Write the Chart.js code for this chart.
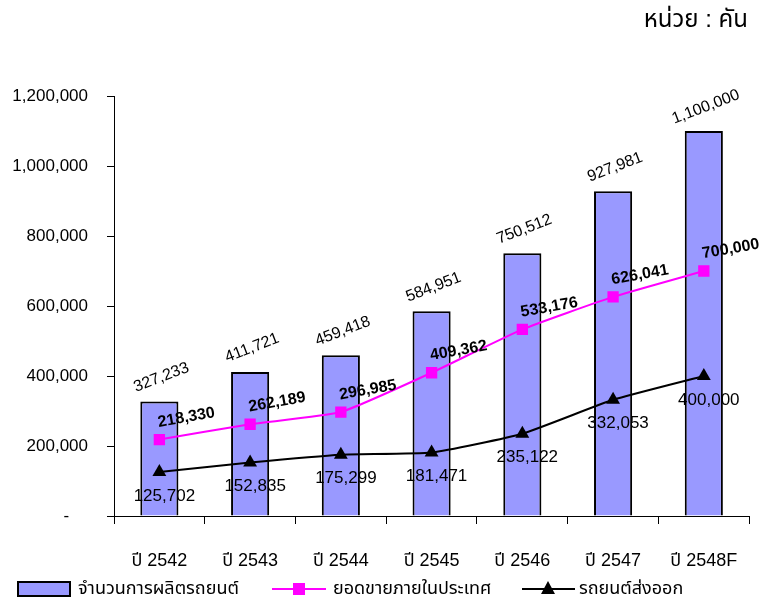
<!DOCTYPE html>
<html>
<head>
<meta charset="utf-8">
<script src="https://cdn.jsdelivr.net/npm/chart.js@4.4.1/dist/chart.umd.min.js"></script>
<style>
  html, body { margin: 0; padding: 0; background: #fff; }
  #wrap { width: 764px; height: 604px; position: relative; }
</style>
</head>
<body>
<div id="wrap"><canvas id="chart" width="764" height="604"></canvas></div>
<script>
const years = ['ปี 2542', 'ปี 2543', 'ปี 2544', 'ปี 2545', 'ปี 2546', 'ปี 2547', 'ปี 2548F']
const production = [327233, 411721, 459418, 584951, 750512, 927981, 1100000]
const domestic = [218330, 262189, 296985, 409362, 533176, 626041, 700000]
const exported = [125702, 152835, 175299, 181471, 235122, 332053, 400000]
const seriesNames = ['จำนวนการผลิตรถยนต์', 'ยอดขายภายในประเทศ', 'รถยนต์ส่งออก']
const unitText = 'หน่วย : คัน'

const FONT = '"Liberation Sans", Arial, "Noto Sans Thai", sans-serif'
const fmt = v => v.toLocaleString('en-US')

// data labels, drawn after datasets
const labelPlugin = {
  id: 'labels',
  afterDatasetsDraw(chart) {
    const ctx = chart.ctx
    ctx.save()
    ctx.fillStyle = '#000'
    ctx.textAlign = 'center'
    ctx.textBaseline = 'middle'
    // bar labels (rotated)
    chart.getDatasetMeta(0).data.forEach((el, i) => {
      ctx.save()
      ctx.translate(el.x + 2, el.y - 24)
      ctx.rotate(-21 * Math.PI / 180)
      ctx.font = '16px ' + FONT
      ctx.fillText(fmt(production[i]), 0, 0)
      ctx.restore()
    })
    // domestic sales (bold, slight rotation)
    chart.getDatasetMeta(1).data.forEach((el, i) => {
      ctx.save()
      ctx.translate(el.x + 27, el.y - 22)
      ctx.rotate(-10 * Math.PI / 180)
      ctx.font = 'bold 16px ' + FONT
      ctx.fillText(fmt(domestic[i]), 0, 0)
      ctx.restore()
    })
    // exports, below the points
    ctx.font = '17px ' + FONT
    chart.getDatasetMeta(2).data.forEach((el, i) => {
      ctx.fillText(fmt(exported[i]), el.x + 5, el.y + 24)
    })
    ctx.restore()
  }
}

// unit caption + legend at the bottom
const decorPlugin = {
  id: 'decor',
  afterDraw(chart) {
    const ctx = chart.ctx
    ctx.save()
    ctx.fillStyle = '#000'
    ctx.textBaseline = 'middle'
    ctx.textAlign = 'right'
    ctx.font = '24px ' + FONT
    ctx.fillText(unitText, 748, 20)

    const ly = 589
    ctx.font = '18px ' + FONT
    ctx.textAlign = 'left'
    // bar swatch
    ctx.fillStyle = '#9999FF'
    ctx.fillRect(18, 582, 52, 14)
    ctx.lineWidth = 2
    ctx.strokeStyle = '#000'
    ctx.strokeRect(18, 582, 52, 14)
    ctx.fillStyle = '#000'
    ctx.fillText(seriesNames[0], 78, ly)
    // magenta line + square
    ctx.strokeStyle = '#FF00FF'
    ctx.beginPath(); ctx.moveTo(272, ly); ctx.lineTo(326, ly); ctx.stroke()
    ctx.fillStyle = '#FF00FF'
    ctx.fillRect(293, ly - 6, 12, 12)
    ctx.fillStyle = '#000'
    ctx.fillText(seriesNames[1], 333, ly)
    // black line + triangle
    ctx.strokeStyle = '#000'
    ctx.beginPath(); ctx.moveTo(522, ly); ctx.lineTo(575, ly); ctx.stroke()
    ctx.beginPath()
    ctx.moveTo(548, ly - 8); ctx.lineTo(555, ly + 5); ctx.lineTo(541, ly + 5); ctx.closePath()
    ctx.fill()
    ctx.fillText(seriesNames[2], 579, ly)
    ctx.restore()
  }
}

new Chart(document.getElementById('chart'), {
  type: 'bar',
  data: {
    labels: years,
    datasets: [
      {
        label: seriesNames[0],
        data: production,
        backgroundColor: '#9999FF',
        borderColor: '#000',
        borderWidth: 2,
        categoryPercentage: 1,
        barPercentage: 0.42,
        order: 3
      },
      {
        type: 'line',
        label: seriesNames[1],
        data: domestic,
        borderColor: '#FF00FF',
        backgroundColor: '#FF00FF',
        borderWidth: 2,
        pointStyle: 'rect',
        pointRadius: 8,
        pointBorderWidth: 0,
        tension: 0.15,
        order: 1
      },
      {
        type: 'line',
        label: seriesNames[2],
        data: exported,
        borderColor: '#000',
        backgroundColor: '#000',
        borderWidth: 2,
        pointStyle: 'triangle',
        pointRadius: 8,
        pointBorderWidth: 0,
        tension: 0.15,
        order: 2
      }
    ]
  },
  options: {
    responsive: false,
    animation: false,
    layout: {padding: {top: 96, right: 10, left: 0, bottom: 0}},
    plugins: {
      legend: {display: false},
      tooltip: {enabled: false}
    },
    scales: {
      x: {
        afterFit: s => { s.height = 88 },
        grid: {offset: true, drawOnChartArea: false, tickLength: 8, color: '#000'},
        border: {color: '#000', width: 1},
        ticks: {color: '#000', font: {family: FONT, size: 18}, padding: 26, maxRotation: 0}
      },
      y: {
        min: 0,
        max: 1200000,
        afterFit: s => { s.width = 114 },
        grid: {drawOnChartArea: false, tickLength: 7, color: '#000'},
        border: {color: '#000', width: 1},
        ticks: {
          stepSize: 200000,
          color: '#000',
          padding: 19,
          font: {family: FONT, size: 17},
          callback: v => v === 0 ? '-    ' : fmt(v)
        }
      }
    }
  },
  plugins: [labelPlugin, decorPlugin]
})
</script>
</body>
</html>
